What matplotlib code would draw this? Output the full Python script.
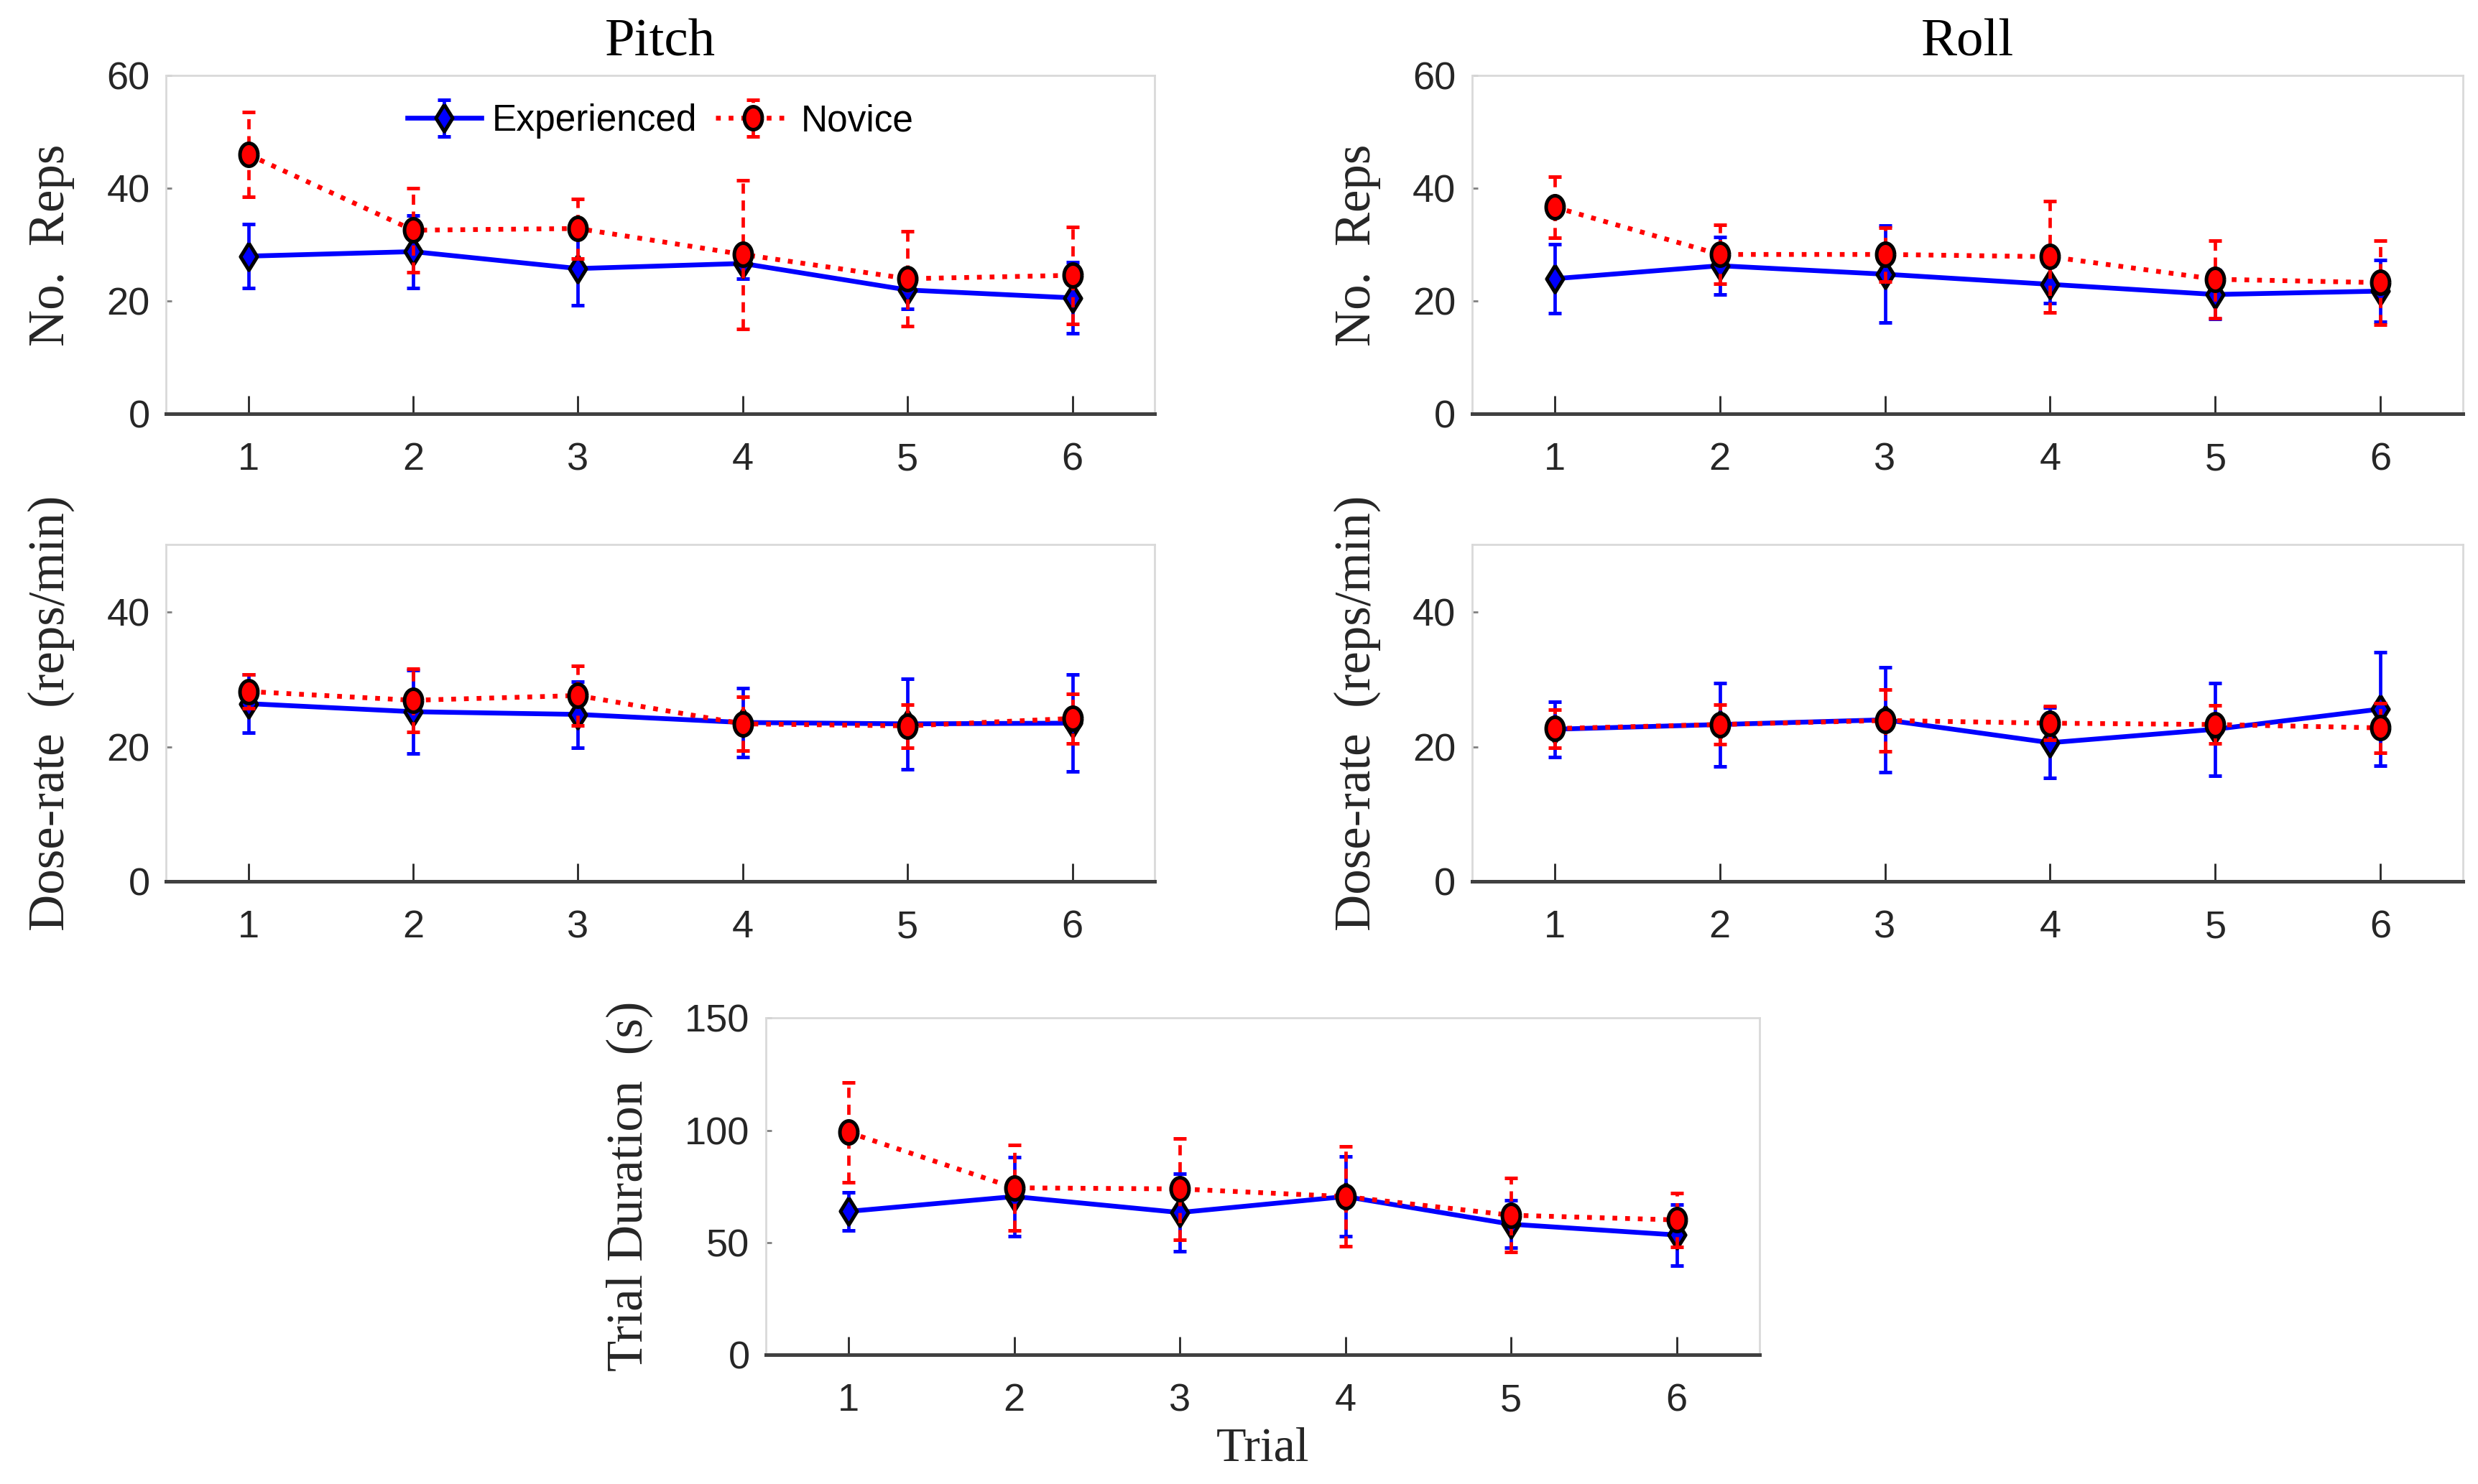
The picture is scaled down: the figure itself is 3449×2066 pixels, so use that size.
import numpy as np
import matplotlib
matplotlib.use("Agg")
import matplotlib.pyplot as plt

trials = [1, 2, 3, 4, 5, 6]

# Pitch - No. Reps
pitch_reps_exp = [28.0, 28.8, 25.8, 26.7, 22.0, 20.6]
pitch_reps_exp_sd = [5.7, 6.4, 6.5, 2.7, 3.4, 6.3]
pitch_reps_nov = [46.0, 32.6, 32.9, 28.3, 24.0, 24.6]
pitch_reps_nov_sd = [7.5, 7.4, 5.3, 13.2, 8.4, 8.6]

# Roll - No. Reps
roll_reps_exp = [24.0, 26.3, 24.8, 23.0, 21.2, 21.8]
roll_reps_exp_sd = [6.1, 5.1, 8.6, 3.3, 4.3, 5.5]
roll_reps_nov = [36.7, 28.3, 28.3, 27.9, 23.9, 23.3]
roll_reps_nov_sd = [5.4, 5.2, 4.8, 9.9, 6.9, 7.5]

# Pitch - Dose-rate
pitch_rate_exp = [26.4, 25.2, 24.8, 23.6, 23.4, 23.5]
pitch_rate_exp_sd = [4.3, 6.2, 4.9, 5.1, 6.7, 7.2]
pitch_rate_nov = [28.2, 26.9, 27.6, 23.4, 23.1, 24.2]
pitch_rate_nov_sd = [2.5, 4.7, 4.4, 4.0, 3.2, 3.7]

# Roll - Dose-rate
roll_rate_exp = [22.6, 23.3, 24.0, 20.6, 22.6, 25.6]
roll_rate_exp_sd = [4.1, 6.2, 7.8, 5.2, 6.9, 8.4]
roll_rate_nov = [22.7, 23.3, 23.9, 23.5, 23.3, 22.8]
roll_rate_nov_sd = [2.8, 2.9, 4.6, 2.5, 2.8, 3.7]

# Trial Duration
dur_exp = [63.9, 70.5, 63.4, 70.5, 58.2, 53.4]
dur_exp_sd = [8.6, 17.5, 17.2, 17.8, 10.5, 13.5]
dur_nov = [99.1, 74.4, 73.9, 70.5, 62.2, 60.1]
dur_nov_sd = [22.1, 19.1, 22.5, 22.2, 16.5, 12.1]

SERIF = ["Liberation Serif", "DejaVu Serif"]
SANS = ["Liberation Sans", "DejaVu Sans"]
plt.rcParams['font.family'] = SANS

fig = plt.figure(figsize=(3449 / 200, 2066 / 200), dpi=200)

# tall diamond and tall ellipse markers
diamond = [(0, 1), (0.62, 0), (0, -1), (-0.62, 0), (0, 1)]
t = np.linspace(0, 2 * np.pi, 60)
ellipse = list(zip(0.78 * np.cos(t), np.sin(t)))


def panel(rect, exp, exp_sd, nov, nov_sd, ylim, yticks, ylabel, title=None,
          xlabel=None, legend=False):
    ax = fig.add_axes(rect)
    ax.errorbar(trials, exp, yerr=exp_sd, color='#0000FF', lw=2.4,
                ls='-', marker=diamond, ms=13.5, mfc='#0000FF', mec='black',
                mew=1.8, ecolor='#0000FF', elinewidth=1.7, capsize=3.2,
                capthick=3.0, label='Experienced', zorder=3)
    e2 = ax.errorbar(trials, nov, yerr=nov_sd, color='#FF0000', lw=2.4,
                     ls=':', marker=ellipse, ms=11.5, mfc='#FF0000',
                     mec='black', mew=1.8, ecolor='#FF0000', elinewidth=1.7,
                     capsize=3.2, capthick=3.0, label='Novice', zorder=4)
    e2[2][0].set_linestyle((0, (3, 2)))
    ax.set_xlim(0.5, 6.5)
    ax.set_ylim(*ylim)
    ax.set_xticks(trials)
    ax.set_yticks(yticks)
    ax.tick_params(axis='x', direction='in', length=9, width=1.0,
                   color='#262626', labelsize=19.5, pad=14,
                   labelcolor='#262626')
    ax.tick_params(axis='y', direction='in', length=3, width=1.0,
                   color='#808080', labelsize=19.5, pad=8,
                   labelcolor='#262626')
    for s in ['top', 'right', 'left']:
        ax.spines[s].set_color('#d9d9d9')
        ax.spines[s].set_linewidth(1.0)
    ax.spines['bottom'].set_color('#404040')
    ax.spines['bottom'].set_linewidth(1.8)
    ax.set_ylabel(ylabel, family=SERIF, fontsize=25.5, color='#262626',
                  labelpad=16)
    if title:
        ax.set_title(title, family=SERIF, fontsize=27, pad=10)
    if xlabel:
        ax.set_xlabel(xlabel, family=SERIF, fontsize=24.5, color='#262626',
                      labelpad=4)
    if legend:
        ax.legend(loc='center', bbox_to_anchor=(0.5, 0.865), ncol=2,
                  frameon=False, fontsize=18.5, handlelength=2.0,
                  handletextpad=0.3, columnspacing=0.5, borderpad=0.2)
    return ax


L1, R1 = 0.067, 0.466
L2, R2 = 0.594, 0.994
W = R1 - L1
W2 = R2 - L2
panel([L1, 0.721, W, 0.228], pitch_reps_exp, pitch_reps_exp_sd,
      pitch_reps_nov, pitch_reps_nov_sd, (0, 60), [0, 20, 40, 60],
      'No.  Reps', title='Pitch', legend=True)
panel([L2, 0.721, W2, 0.228], roll_reps_exp, roll_reps_exp_sd,
      roll_reps_nov, roll_reps_nov_sd, (0, 60), [0, 20, 40, 60],
      'No.  Reps', title='Roll')
panel([L1, 0.406, W, 0.227], pitch_rate_exp, pitch_rate_exp_sd,
      pitch_rate_nov, pitch_rate_nov_sd, (0, 50), [0, 20, 40],
      'Dose-rate  (reps/min)')
panel([L2, 0.406, W2, 0.227], roll_rate_exp, roll_rate_exp_sd,
      roll_rate_nov, roll_rate_nov_sd, (0, 50), [0, 20, 40],
      'Dose-rate  (reps/min)')
panel([0.309, 0.087, 0.401, 0.227], dur_exp, dur_exp_sd, dur_nov, dur_nov_sd,
      (0, 150), [0, 50, 100, 150], 'Trial Duration  (s)', xlabel='Trial')

fig.savefig('out.png', dpi=200, facecolor='white')
